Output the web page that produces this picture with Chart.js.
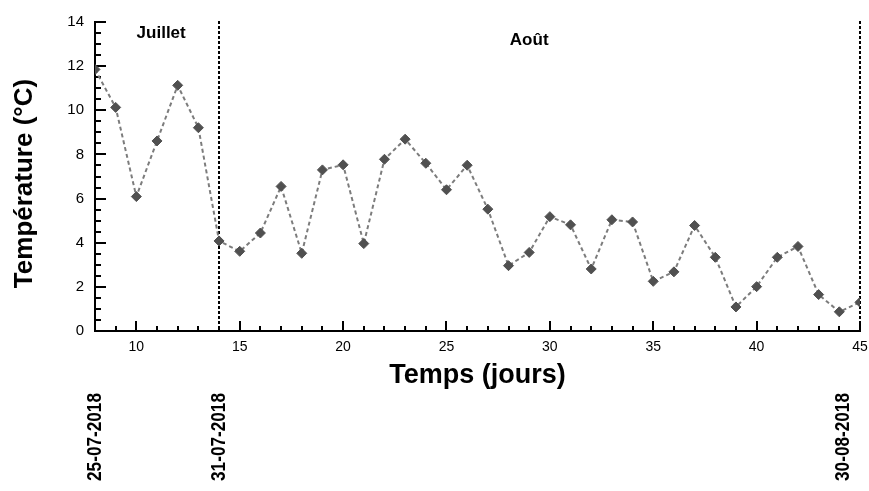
<!DOCTYPE html>
<html>
<head>
<meta charset="utf-8">
<script src="https://cdn.jsdelivr.net/npm/chart.js@4/dist/chart.umd.min.js"></script>
<style>
html,body{margin:0;padding:0;background:#fff;}
#wrap{width:869px;height:491px;position:relative;}
</style>
</head>
<body>
<div id="wrap"><canvas id="c" width="869" height="491"></canvas></div>
<script>
// ---- data ----
const days = [8, 9, 10, 11, 12, 13, 14, 15, 16, 17, 18, 19, 20, 21, 22, 23, 24, 25, 26,
  27, 28, 29, 30, 31, 32, 33, 34, 35, 36, 37, 38, 39, 40, 41, 42, 43, 44, 45];
const temps = [11.85, 10.13, 6.09, 8.61, 11.13, 9.21, 4.08, 3.61, 4.44, 6.55, 3.52, 7.30, 7.53,
  3.96, 7.78, 8.69, 7.60, 6.40, 7.51, 5.52, 2.96, 3.56, 5.18, 4.81, 2.81, 5.04, 4.94, 2.25,
  2.68, 4.78, 3.34, 1.09, 2.01, 3.34, 3.83, 1.65, 0.87, 1.30];
const xTickLabels = [10, 15, 20, 25, 30, 35, 40, 45];
const yTickLabels = [0, 2, 4, 6, 8, 10, 12, 14];
const separatorDays = [14, 45];
const monthNames = ['Juillet', 'Août'];
const monthDays = [11.2, 29];
const dateNames = ['25-07-2018', '31-07-2018', '30-08-2018'];
const dateDays = [8, 14, 45];
const xTitle = 'Temps (jours)';
const yTitle = 'Température (°C)';

const FONT = '"Liberation Sans", Arial, sans-serif';

const decor = {
  id: 'decor',
  beforeDatasetsDraw(chart) {
    const {ctx, chartArea: a, scales: {x, y}} = chart;
    ctx.save();
    // separators
    ctx.strokeStyle = '#000';
    ctx.lineWidth = 2;
    ctx.setLineDash([3, 2]);
    separatorDays.forEach(d => {
      const px = Math.round(x.getPixelForValue(d));
      ctx.beginPath();
      ctx.moveTo(px, a.top - 1);
      ctx.lineTo(px, a.bottom);
      ctx.stroke();
    });
    ctx.setLineDash([]);
    // inward ticks
    ctx.lineWidth = 2;
    for (let v = 8; v <= 45; v += 1) {
      const px = Math.round(x.getPixelForValue(v));
      const len = (v % 5 === 0) ? 10 : 5;
      ctx.beginPath(); ctx.moveTo(px, a.bottom); ctx.lineTo(px, a.bottom - len); ctx.stroke();
    }
    for (let v = 0; v <= 14.001; v += 0.5) {
      const py = Math.round(y.getPixelForValue(v));
      const len = (Math.abs(v % 2) < 1e-6) ? 11 : 6;
      ctx.beginPath(); ctx.moveTo(a.left, py); ctx.lineTo(a.left + len, py); ctx.stroke();
    }
    ctx.restore();
  },
  afterDraw(chart) {
    const {ctx, chartArea: a, scales: {x, y}} = chart;
    ctx.save();
    ctx.fillStyle = '#000';
    // months
    ctx.font = 'bold 17px ' + FONT;
    ctx.textAlign = 'center';
    ctx.textBaseline = 'alphabetic';
    ctx.fillText(monthNames[0], x.getPixelForValue(monthDays[0]), 37.5);
    ctx.fillText(monthNames[1], x.getPixelForValue(monthDays[1]), 44.5);
    // x title
    ctx.font = 'bold 27px ' + FONT;
    ctx.fillText(xTitle, 477.5, 382.5);
    // y title
    ctx.save();
    ctx.translate(32, 183.5);
    ctx.rotate(-Math.PI / 2);
    ctx.font = 'bold 26px ' + FONT;
    ctx.textAlign = 'center';
    ctx.fillText(yTitle, 0, 0);
    ctx.restore();
    // dates
    ctx.font = 'bold 20px ' + FONT;
    dateNames.forEach((t, i) => {
      let px = x.getPixelForValue(dateDays[i]);
      if (i === dateNames.length - 1) px -= 17;
      ctx.save();
      ctx.translate(px, 393);
      ctx.rotate(-Math.PI / 2);
      ctx.scale(0.86, 1);
      ctx.textAlign = 'right';
      ctx.textBaseline = 'middle';
      ctx.fillText(t, 0, 0);
      ctx.restore();
    });
    ctx.restore();
  }
};

new Chart(document.getElementById('c'), {
  type: 'scatter',
  data: {
    datasets: [{
      data: days.map((d, i) => ({x: d, y: temps[i]})),
      showLine: true,
      borderColor: '#7c7c7c',
      borderWidth: 2,
      borderDash: [4, 3],
      pointStyle: 'rectRot',
      pointRadius: 5,
      pointBackgroundColor: '#505050',
      pointBorderColor: '#505050',
      pointBorderWidth: 1
    }]
  },
  options: {
    responsive: false,
    animation: false,
    events: [],
    layout: {padding: {left: 67, right: 9, top: 22, bottom: 140}},
    plugins: {legend: {display: false}, tooltip: {enabled: false}},
    scales: {
      x: {
        type: 'linear', min: 8, max: 45,
        grid: {display: false, drawTicks: false},
        border: {display: true, color: '#000', width: 2},
        afterBuildTicks: s => { s.ticks = xTickLabels.map(v => ({value: v})); },
        afterFit: s => { s.height = 20; s.paddingLeft = 0; s.paddingRight = 0; },
        ticks: {color: '#000', padding: 8, font: {family: FONT, size: 14}, maxRotation: 0, autoSkip: false}
      },
      y: {
        type: 'linear', min: 0, max: 14,
        grid: {display: false, drawTicks: false},
        border: {display: true, color: '#000', width: 2},
        afterBuildTicks: s => { s.ticks = yTickLabels.map(v => ({value: v})); },
        afterFit: s => { s.width = 28; s.paddingTop = 0; s.paddingBottom = 0; },
        ticks: {color: '#000', padding: 11, font: {family: FONT, size: 15}}
      }
    }
  },
  plugins: [decor]
});
</script>
</body>
</html>
